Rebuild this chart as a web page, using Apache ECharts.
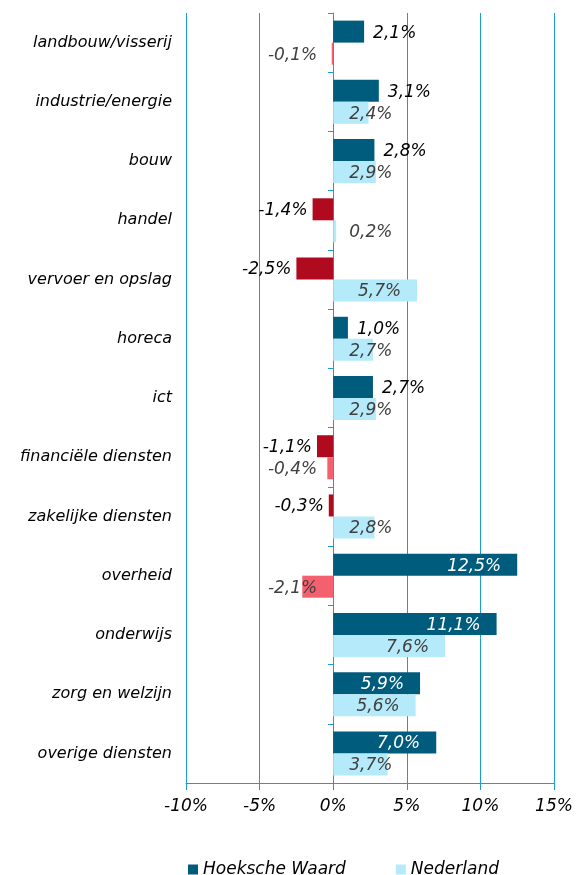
<!DOCTYPE html>
<html>
<head>
<meta charset="utf-8">
<script src="https://cdn.jsdelivr.net/npm/echarts@6/dist/echarts.min.js"></script>
<style>html,body{margin:0;padding:0;background:#fff}#c{width:577px;height:875px}</style>
</head>
<body>
<div id="c"></div>
<script>
const categories = ['landbouw/visserij','industrie/energie','bouw','handel','vervoer en opslag','horeca','ict','financiële diensten','zakelijke diensten','overheid','onderwijs','zorg en welzijn','overige diensten'];
const hoekscheWaard = [2.1, 3.1, 2.8, -1.4, -2.5, 1.0, 2.7, -1.1, -0.3, 12.5, 11.1, 5.9, 7.0];
const nederland = [-0.1, 2.4, 2.9, 0.2, 5.7, 2.7, 2.9, -0.4, 2.8, -2.1, 7.6, 5.6, 3.7];
const xTicks = [-10, -5, 0, 5, 10, 15];

const FONT = 'DejaVu Sans';
const GRID = '#1a9dd0';
const C_HW = '#005c7c', C_HW_NEG = '#b00a1e';
const C_NL = '#b5eafa', C_NL_NEG = '#f5606f';
const PX_PER_PCT = 368 / 25;
const fmt = v => v.toFixed(1).replace('.', ',') + '%';

const hwData = hoekscheWaard.map(v => {
  let label;
  if (v < 0) label = {position: 'left', distance: 5, color: '#000'};
  else if (v * PX_PER_PCT > 70) label = {position: 'insideRight', distance: 16, color: '#fff'};
  else label = {position: 'right', distance: 9, color: '#000'};
  return {value: v, itemStyle: {color: v < 0 ? C_HW_NEG : C_HW}, label};
});
const nlData = nederland.map(v => {
  let label;
  if (v < 0) label = {position: 'insideRight', distance: 16};
  else if (v * PX_PER_PCT >= 80) label = {position: 'insideRight', distance: 16};
  else label = {position: 'insideLeft', distance: 16};
  return {value: v, itemStyle: {color: v < 0 ? C_NL_NEG : C_NL}, label};
});

const chart = echarts.init(document.getElementById('c'), null, {renderer: 'canvas'});
chart.setOption({
  animation: false,
  textStyle: {fontFamily: FONT},
  grid: {left: 186, right: 23, top: 13, bottom: 92, containLabel: false},
  xAxis: {
    type: 'value', min: xTicks[0], max: xTicks[xTicks.length - 1], interval: 5,
    axisLine: {show: true, lineStyle: {color: GRID, width: 1}},
    axisTick: {show: true, length: 7, lineStyle: {color: GRID}},
    splitLine: {show: true, lineStyle: {color: GRID, width: 1}},
    axisLabel: {formatter: v => v + '%', color: '#000', fontSize: 17, fontStyle: 'italic', fontFamily: FONT, margin: 15}
  },
  yAxis: [{
    type: 'category', data: categories, inverse: true, position: 'left',
    axisLine: {show: false}, axisTick: {show: false},
    axisLabel: {color: '#000', fontSize: 16, fontStyle: 'italic', fontFamily: FONT, margin: 14}
  }, {
    type: 'category', data: categories, inverse: true, position: 'left', offset: -147,
    axisLine: {show: true, onZero: false, lineStyle: {color: GRID, width: 1}},
    axisTick: {show: true, length: 5, lineStyle: {color: GRID}},
    axisLabel: {show: false}
  }],
  legend: {
    left: 183, top: 856, itemWidth: 10, itemHeight: 10, itemGap: 50, icon: 'rect',
    textStyle: {fontSize: 17, fontStyle: 'italic', color: '#000', fontFamily: FONT},
    data: ['Hoeksche Waard', 'Nederland']
  },
  series: [{
    name: 'Hoeksche Waard', type: 'bar', yAxisIndex: 0, data: hwData,
    barWidth: 22, barGap: '0%', color: C_HW,
    label: {show: true, formatter: p => fmt(p.value), fontSize: 17, fontStyle: 'italic', fontFamily: FONT, offset: [0, 1.5]}
  }, {
    name: 'Nederland', type: 'bar', yAxisIndex: 0, data: nlData,
    barWidth: 22, barGap: '0%', color: C_NL,
    label: {show: true, formatter: p => fmt(p.value), fontSize: 17, fontStyle: 'italic', fontFamily: FONT, color: '#404040', offset: [0, 1.5]}
  }]
});
</script>
</body>
</html>
